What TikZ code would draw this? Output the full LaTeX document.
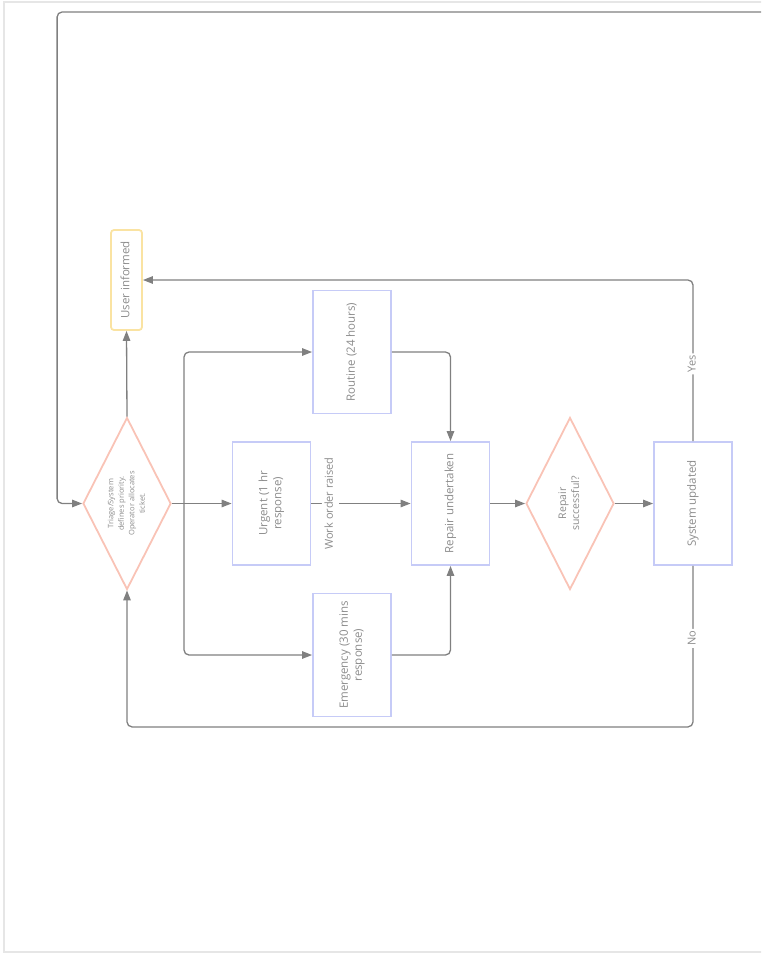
\documentclass[tikz,border=0pt]{standalone}
\usepackage{fontspec}
\setmainfont{Open Sans}
\usetikzlibrary{arrows.meta,shapes.geometric}

\definecolor{boxblue}{HTML}{C6CBF7}
\definecolor{diapink}{HTML}{F9C3B6}
\definecolor{infoyel}{HTML}{FAE3A2}
\definecolor{linegray}{HTML}{808080}
\definecolor{textgray}{HTML}{8C8C8C}
\definecolor{framegray}{HTML}{E6E6E6}

\newcommand{\vtext}[1]{\rotatebox{90}{\begin{tabular}{@{}c@{}}#1\end{tabular}}}

\tikzset{
    box/.style={draw=boxblue, line width=1.8pt, minimum width=78pt, minimum height=123pt,
        inner sep=0pt, text=textgray, font=\fontsize{11.5}{14}\selectfont},
    choice/.style={diamond, aspect=0.52, draw=diapink, line width=1.8pt, minimum width=88pt,
        minimum height=172pt, inner sep=0pt, text=textgray},
    infobox/.style={draw=infoyel, line width=1.8pt, rounded corners=3pt, minimum width=31pt,
        minimum height=100pt, inner sep=0pt, text=textgray, font=\fontsize{11.5}{14}\selectfont},
    flow/.style={draw=linegray, line width=1.3pt, rounded corners=5pt,
        -{Triangle[length=10pt,width=7.5pt]}},
    edgelabel/.style={fill=white, text=textgray, inner sep=2pt, font=\fontsize{11}{13}\selectfont}
}

\begin{document}
\begin{tikzpicture}[x=1pt,y=-1pt]
    \useasboundingbox (0,0) rectangle (761,960);
    \clip (0,0) rectangle (761,960);
    \draw[framegray, line width=1.5pt] (4,2) rectangle (780,952);

    \node[choice, font=\fontsize{7.5}{10.5}\selectfont] (triage) at (127,503.5)
        {\vtext{Triage/System\\defines priority.\\Operator allocates\\ticket.}};
    \node[infobox] (informed) at (126.5,280) {\vtext{User informed}};
    \node[box] (routine) at (352,352) {\vtext{Routine (24 hours)}};
    \node[box] (urgent) at (271.5,503.5) {\vtext{Urgent (1 hr\\response)}};
    \node[box] (emergency) at (352,655) {\vtext{Emergency (30 mins\\response)}};
    \node[box] (repair) at (450.5,503.5) {\vtext{Repair undertaken}};
    \node[choice, font=\fontsize{10.5}{13}\selectfont] (check) at (570,503.5) {\vtext{Repair\\successful?}};
    \node[box] (updated) at (693,503.5) {\vtext{System updated}};

    \coordinate (split) at (184,503.5);
    \coordinate (loopin) at (775,12);

    \draw[flow] (triage.north) -- (informed.south);
    \draw[flow] (triage.east) -- (urgent.west);
    \draw[flow] (split) |- (routine.west);
    \draw[flow] (split) |- (emergency.west);
    \draw[flow] (urgent.east) -- node[pos=0.19, edgelabel] {\vtext{Work order raised}} (repair.west);
    \draw[flow] (routine.east) -| (repair.north);
    \draw[flow] (emergency.east) -| (repair.south);
    \draw[flow] (repair.east) -- (check.west);
    \draw[flow] (check.east) -- (updated.west);
    \draw[flow] (updated.north) |- node[pos=0.24, edgelabel] {\vtext{Yes}} (informed.east);
    \draw[flow] (updated.south) -- node[pos=0.45, edgelabel] {\vtext{No}} ++(0,161) -| (triage.south);
    \draw[flow] (loopin) -| ([xshift=-25pt]triage.west) -- (triage.west);
\end{tikzpicture}
\end{document}
